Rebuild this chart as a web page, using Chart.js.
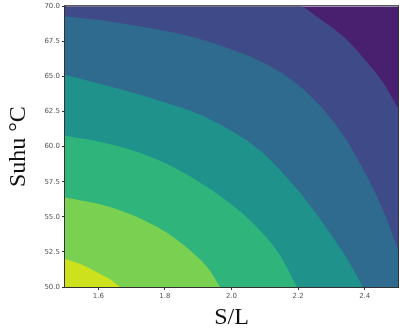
<!DOCTYPE html>
<html>
<head>
<meta charset="utf-8">
<script src="https://cdn.jsdelivr.net/npm/chart.js@4/dist/chart.umd.min.js"></script>
<style>
  html, body { margin: 0; padding: 0; background: #ffffff; }
  #wrap { width: 400px; height: 332px; position: relative; }
</style>
</head>
<body>
<div id="wrap"><canvas id="chart"></canvas></div>
<script>
// Axis ticks
const xTicks = [1.6, 1.8, 2.0, 2.2, 2.4];
const yTicks = [50, 52.5, 55, 57.5, 60, 62.5, 65, 67.5, 70];

// Contour boundaries as [S/L, Suhu] points, from the top-right corner band inwards
const frameTop = [[1.5, 70], [2.5, 70]];
const contour1 = [[1.5, 70], [2.2057, 70], [2.2538, 69.29], [2.3048, 68.44], [2.3559, 67.38],
                  [2.4039, 66.10], [2.4520, 64.68], [2.5, 62.77]];
const contour2 = [[1.5, 69.29], [1.6051, 69.01], [1.7042, 68.65], [1.8033, 68.23], [1.9054, 67.66],
                  [2.0045, 66.88], [2.0856, 66.10], [2.1547, 65.18], [2.2207, 63.97], [2.2868, 62.34],
                  [2.3408, 60.64], [2.3859, 58.79], [2.4309, 56.74], [2.4700, 54.61], [2.5, 52.62]];
const contour3 = [[1.5, 65.11], [1.6051, 64.47], [1.7042, 63.83], [1.8033, 63.12], [1.9054, 62.27],
                  [2.0045, 61.06], [2.0856, 59.72], [2.1607, 57.94], [2.2357, 55.82], [2.2958, 53.83],
                  [2.3498, 51.91], [2.3949, 50]];
const contour4 = [[1.5, 60.78], [1.6051, 60.35], [1.7042, 59.72], [1.8033, 58.79], [1.9054, 57.45],
                  [1.9955, 55.96], [2.0766, 54.26], [2.1456, 52.27], [2.1967, 50]];
const contour5 = [[1.5, 56.38], [1.6051, 55.89], [1.7042, 55.11], [1.8033, 53.90], [1.8754, 52.62],
                  [1.9294, 51.35], [1.9655, 50]];
const contour6 = [[1.5, 51.99], [1.55, 51.6], [1.6, 51.0], [1.635, 50.55], [1.665, 50]];

// Viridis-like band colours, outermost (top-right) to innermost (bottom-left)
const bandColors = ['#48206f', '#3f4a89', '#2e6b8e', '#20928c', '#2fb47b', '#7ad151', '#cde11d'];
const boundaries = [frameTop, contour1, contour2, contour3, contour4, contour5, contour6];

const datasets = boundaries.map((pts, i) => ({
  data: pts.map(p => ({ x: p[0], y: p[1] })),
  backgroundColor: bandColors[i],
  borderWidth: 0,
  borderColor: 'rgba(0,0,0,0)',
  pointRadius: 0,
  fill: 'start',
  cubicInterpolationMode: 'monotone',
  order: boundaries.length - i
}));

// thin dark frame around the plotting area
const frame = {
  id: 'frame',
  afterDatasetsDraw(chart) {
    const a = chart.chartArea, ctx = chart.ctx;
    ctx.save();
    ctx.strokeStyle = '#333';
    ctx.lineWidth = 1;
    ctx.strokeRect(a.left - 0.5, a.top - 0.5, a.right - a.left + 1, a.bottom - a.top + 1);
    ctx.restore();
  }
};

new Chart(document.getElementById('chart'), {
  type: 'line',
  data: { datasets },
  plugins: [frame],
  options: {
    responsive: true,
    maintainAspectRatio: false,
    animation: false,
    events: [],
    layout: { padding: { top: 5, right: 2, left: 0, bottom: 0 } },
    plugins: { legend: { display: false }, tooltip: { enabled: false } },
    scales: {
      x: {
        type: 'linear', min: 1.5, max: 2.5,
        afterBuildTicks: s => { s.ticks = xTicks.map(v => ({ value: v })); },
        afterFit: s => { s.height = 45; },
        ticks: { color: '#555', font: { family: 'DejaVu Sans', size: 7 }, padding: 2, maxRotation: 0,
                 callback: v => Number(v).toFixed(1) },
        grid: { drawOnChartArea: false, tickLength: 3, color: '#333' },
        border: { display: true, color: '#333' },
        title: { display: true, text: 'S/L', color: '#111',
                 font: { family: 'Liberation Serif', size: 24 }, padding: { top: 0, bottom: 0 } }
      },
      y: {
        type: 'linear', min: 50, max: 70,
        afterBuildTicks: s => { s.ticks = yTicks.map(v => ({ value: v })); },
        afterFit: s => { s.width = 65; },
        ticks: { color: '#555', font: { family: 'DejaVu Sans', size: 7 }, padding: 2,
                 callback: v => Number(v).toFixed(1) },
        grid: { drawOnChartArea: false, tickLength: 3, color: '#333' },
        border: { display: true, color: '#333' },
        title: { display: true, text: 'Suhu °C', color: '#111',
                 font: { family: 'Liberation Serif', size: 24 }, padding: { top: 4, bottom: 0 } }
      }
    }
  }
});
</script>
</body>
</html>
